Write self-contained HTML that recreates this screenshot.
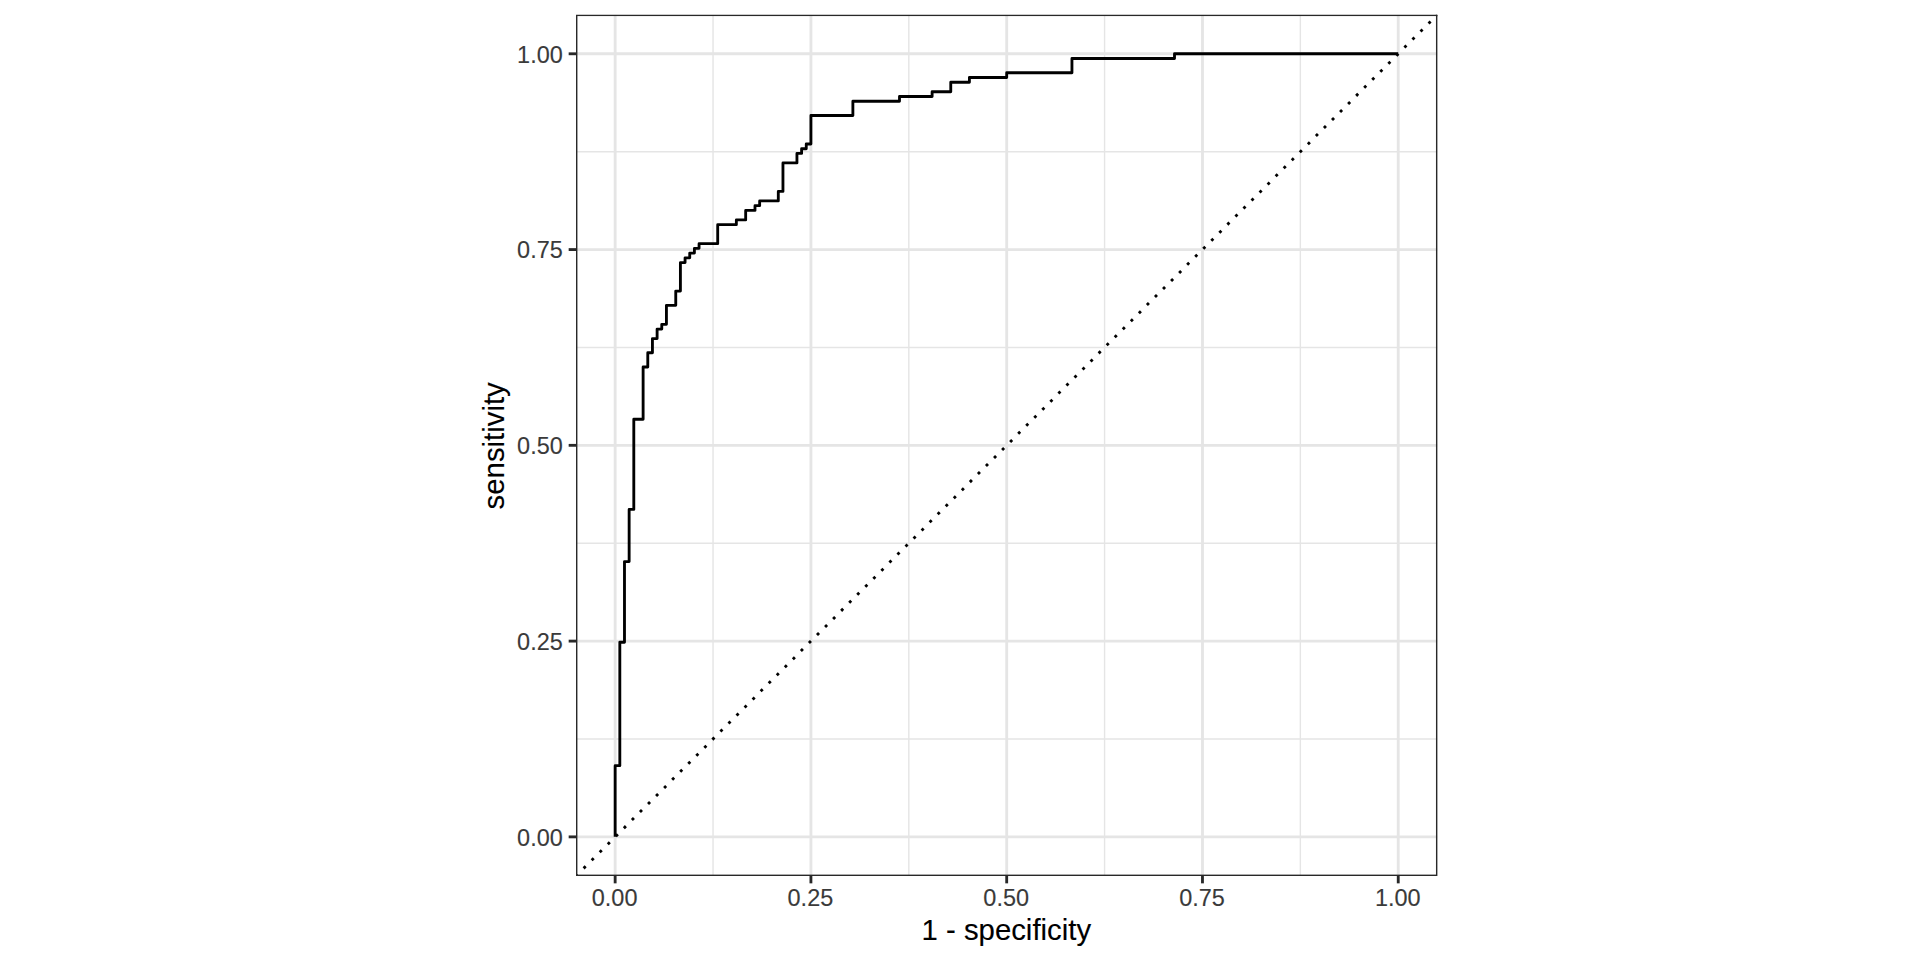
<!DOCTYPE html>
<html lang="en">
<head>
<meta charset="utf-8">
<title>ROC curve</title>
<style>
html,body{margin:0;padding:0;background:#fff;}
body{width:1920px;height:960px;overflow:hidden;}
svg{display:block;}
text{font-family:"Liberation Sans",sans-serif;}
.tick{font-size:23.47px;fill:#3a3a3a;stroke:#3a3a3a;stroke-width:0.12px;}
.title{font-size:29.33px;fill:#000;stroke:#000;stroke-width:0.12px;}
</style>
</head>
<body>
<svg width="1920" height="960" viewBox="0 0 1920 960">
<rect x="0" y="0" width="1920" height="960" fill="#ffffff"/>
<defs><clipPath id="panel"><rect x="576.00" y="14.64" width="861.39" height="861.39"/></clipPath></defs>
<g clip-path="url(#panel)">
<rect x="576.00" y="14.64" width="861.39" height="861.39" fill="#ffffff"/>
<g stroke="#e5e5e5" stroke-width="1.423" fill="none">
<line x1="576.00" x2="1437.39" y1="738.99" y2="738.99"/>
<line x1="576.00" x2="1437.39" y1="543.21" y2="543.21"/>
<line x1="576.00" x2="1437.39" y1="347.44" y2="347.44"/>
<line x1="576.00" x2="1437.39" y1="151.67" y2="151.67"/>
<line x1="713.04" x2="713.04" y1="14.64" y2="876.02"/>
<line x1="908.81" x2="908.81" y1="14.64" y2="876.02"/>
<line x1="1104.58" x2="1104.58" y1="14.64" y2="876.02"/>
<line x1="1300.35" x2="1300.35" y1="14.64" y2="876.02"/>
</g>
<g stroke="#e5e5e5" stroke-width="2.845" fill="none">
<line x1="576.00" x2="1437.39" y1="836.87" y2="836.87"/>
<line x1="576.00" x2="1437.39" y1="641.10" y2="641.10"/>
<line x1="576.00" x2="1437.39" y1="445.33" y2="445.33"/>
<line x1="576.00" x2="1437.39" y1="249.56" y2="249.56"/>
<line x1="576.00" x2="1437.39" y1="53.79" y2="53.79"/>
<line x1="615.15" x2="615.15" y1="14.64" y2="876.02"/>
<line x1="810.92" x2="810.92" y1="14.64" y2="876.02"/>
<line x1="1006.69" x2="1006.69" y1="14.64" y2="876.02"/>
<line x1="1202.47" x2="1202.47" y1="14.64" y2="876.02"/>
<line x1="1398.24" x2="1398.24" y1="14.64" y2="876.02"/>
</g>
<path d="M615.15 836.87 L615.15 765.68 L619.82 765.68 L619.82 642.29 L624.48 642.29 L624.48 561.61 L629.14 561.61 L629.14 509.40 L633.80 509.40 L633.80 419.23 L643.12 419.23 L643.12 367.02 L647.78 367.02 L647.78 352.78 L652.44 352.78 L652.44 338.55 L657.11 338.55 L657.11 329.05 L661.77 329.05 L661.77 324.31 L666.43 324.31 L666.43 305.32 L675.75 305.32 L675.75 291.09 L680.41 291.09 L680.41 262.61 L685.07 262.61 L685.07 257.87 L689.73 257.87 L689.73 253.12 L694.40 253.12 L694.40 248.37 L699.06 248.37 L699.06 243.63 L717.70 243.63 L717.70 224.64 L736.35 224.64 L736.35 219.90 L745.67 219.90 L745.67 210.41 L754.99 210.41 L754.99 205.66 L759.65 205.66 L759.65 200.91 L778.30 200.91 L778.30 191.42 L782.96 191.42 L782.96 162.95 L796.94 162.95 L796.94 153.45 L801.60 153.45 L801.60 148.71 L806.26 148.71 L806.26 143.96 L810.92 143.96 L810.92 115.49 L852.88 115.49 L852.88 101.25 L899.49 101.25 L899.49 96.50 L932.12 96.50 L932.12 91.76 L950.76 91.76 L950.76 82.27 L969.41 82.27 L969.41 77.52 L1006.69 77.52 L1006.69 72.77 L1071.95 72.77 L1071.95 58.54 L1174.50 58.54 L1174.50 53.79 L1398.24 53.79" fill="none" stroke="#000" stroke-width="2.845" stroke-linejoin="round" stroke-linecap="butt"/>
<line x1="576.00" y1="876.02" x2="1437.39" y2="14.64" stroke="#000" stroke-width="2.845" stroke-dasharray="2.845 8.535" stroke-dashoffset="0.57"/>
<rect x="576.00" y="14.64" width="861.39" height="861.39" fill="none" stroke="#282828" stroke-width="2.845"/>
</g>
<g stroke="#282828" stroke-width="2.845" fill="none">
<line x1="568.67" x2="576.00" y1="836.87" y2="836.87"/>
<line x1="568.67" x2="576.00" y1="641.10" y2="641.10"/>
<line x1="568.67" x2="576.00" y1="445.33" y2="445.33"/>
<line x1="568.67" x2="576.00" y1="249.56" y2="249.56"/>
<line x1="568.67" x2="576.00" y1="53.79" y2="53.79"/>
<line x1="615.15" x2="615.15" y1="876.02" y2="883.35"/>
<line x1="810.92" x2="810.92" y1="876.02" y2="883.35"/>
<line x1="1006.69" x2="1006.69" y1="876.02" y2="883.35"/>
<line x1="1202.47" x2="1202.47" y1="876.02" y2="883.35"/>
<line x1="1398.24" x2="1398.24" y1="876.02" y2="883.35"/>
</g>
<g class="tick" text-anchor="end">
<text x="562.80" y="846.00">0.00</text>
<text x="562.80" y="650.00">0.25</text>
<text x="562.80" y="454.00">0.50</text>
<text x="562.80" y="258.00">0.75</text>
<text x="562.80" y="63.00">1.00</text>
</g>
<g class="tick" text-anchor="middle">
<text x="614.65" y="906.00">0.00</text>
<text x="810.42" y="906.00">0.25</text>
<text x="1006.19" y="906.00">0.50</text>
<text x="1201.97" y="906.00">0.75</text>
<text x="1397.74" y="906.00">1.00</text>
</g>
<text class="title" text-anchor="middle" x="1006.30" y="940">1 - specificity</text>
<text class="title" text-anchor="middle" transform="translate(503.75,445.83) rotate(-90)">sensitivity</text>
</svg>
</body>
</html>
